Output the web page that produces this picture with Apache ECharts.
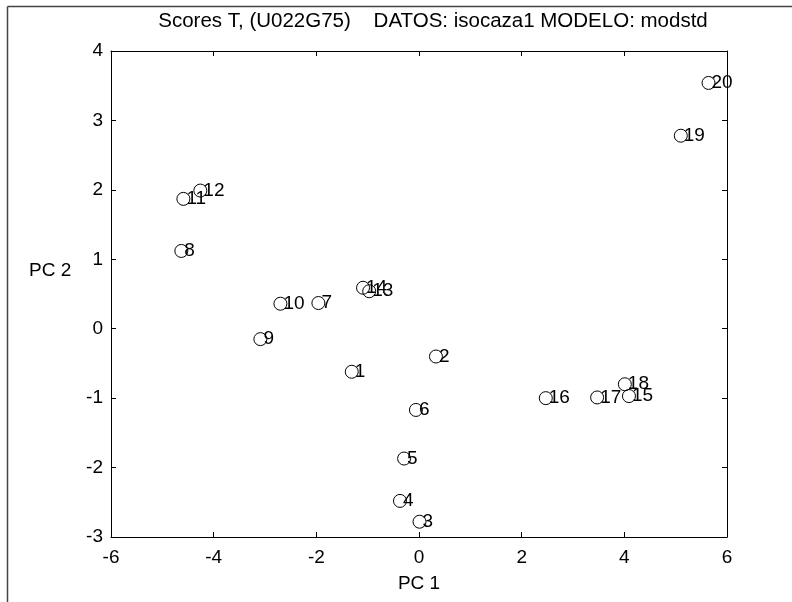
<!DOCTYPE html>
<html><head><meta charset="utf-8">
<script src="https://cdn.jsdelivr.net/npm/echarts@6/dist/echarts.min.js"></script>
<style>html,body{margin:0;padding:0;background:#fff}#c{width:792px;height:602px}</style>
</head><body><div id="c"></div>
<script>
const labels = ['1','2','3','4','5','6','7','8','9','10','11','12','13','14','15','16','17','18','19','20'];
const pc1 = [-1.31, 0.33, 0.01, -0.37, -0.29, -0.06, -1.96, -4.63, -3.09, -2.70, -4.59, -4.26, -0.97, -1.09, 4.09, 2.47, 3.47, 4.01, 5.10, 5.64];
const pc2 = [-0.62, -0.40, -2.78, -2.48, -1.87, -1.17, 0.37, 1.12, -0.15, 0.36, 1.87, 1.99, 0.54, 0.59, -0.97, -1.00, -0.99, -0.80, 2.78, 3.54];
const xTicks = [-6, -4, -2, 0, 2, 4, 6];
const yTicks = [-3, -2, -1, 0, 1, 2, 3, 4];

const chart = echarts.init(document.getElementById('c'), null, {renderer: 'canvas'});
const font = 'Liberation Sans, Arial, sans-serif';
const data = pc1.map((x, i) => ({value: [x, pc2[i]], name: labels[i]}));
const axisCommon = {
  axisLine: {show: true, onZero: false, lineStyle: {color: '#000', width: 1}},
  axisTick: {show: true, inside: true, length: 5, lineStyle: {color: '#000'}},
  splitLine: {show: false}
};
chart.setOption({
  animation: false,
  backgroundColor: '#fff',
  title: {
    text: 'Scores T, (U022G75)    DATOS: isocaza1 MODELO: modstd',
    left: 428, top: 6, textAlign: 'center',
    textStyle: {fontFamily: font, fontSize: 20.5, fontWeight: 'normal', color: '#000'}
  },
  grid: {left: 111, top: 51, right: 65, bottom: 65, containLabel: false},
  xAxis: [
    Object.assign({type: 'value', min: xTicks[0], max: xTicks[xTicks.length-1], interval: 2, position: 'bottom',
      name: 'PC 1', nameLocation: 'middle', nameGap: 37,
      nameTextStyle: {fontFamily: font, fontSize: 19, color: '#000'},
      axisLabel: {fontFamily: font, fontSize: 19, color: '#000', margin: 11}}, axisCommon),
    Object.assign({type: 'value', min: xTicks[0], max: xTicks[xTicks.length-1], interval: 2, position: 'top',
      axisLabel: {show: false}}, axisCommon)
  ],
  yAxis: [
    Object.assign({type: 'value', min: yTicks[0], max: yTicks[yTicks.length-1], interval: 1, position: 'left',
      axisLabel: {fontFamily: font, fontSize: 19, color: '#000', margin: 8}}, axisCommon),
    Object.assign({type: 'value', min: yTicks[0], max: yTicks[yTicks.length-1], interval: 1, position: 'right',
      axisLabel: {show: false}}, axisCommon)
  ],
  series: [{
    type: 'scatter',
    data: data,
    symbol: 'circle',
    symbolSize: 13,
    itemStyle: {color: 'rgba(0,0,0,0)', borderColor: '#000', borderWidth: 1, opacity: 1},
    label: {
      show: true, formatter: p => p.name, position: 'right', distance: -4,
      fontFamily: font, fontSize: 19, color: '#000', textBorderWidth: 0
    },
    labelLayout: {hideOverlap: false},
    emphasis: {disabled: true}
  }],
  graphic: [
    {type: 'line', shape: {x1: 7.5, y1: 6.5, x2: 792, y2: 6.5}, style: {stroke: '#444', lineWidth: 1.5}},
    {type: 'line', shape: {x1: 7.5, y1: 6.5, x2: 7.5, y2: 602}, style: {stroke: '#444', lineWidth: 1.5}},
    {type: 'text', left: 29, top: 261, style: {text: 'PC 2', font: '19px ' + font, fill: '#000'}}
  ]
});
</script></body></html>
